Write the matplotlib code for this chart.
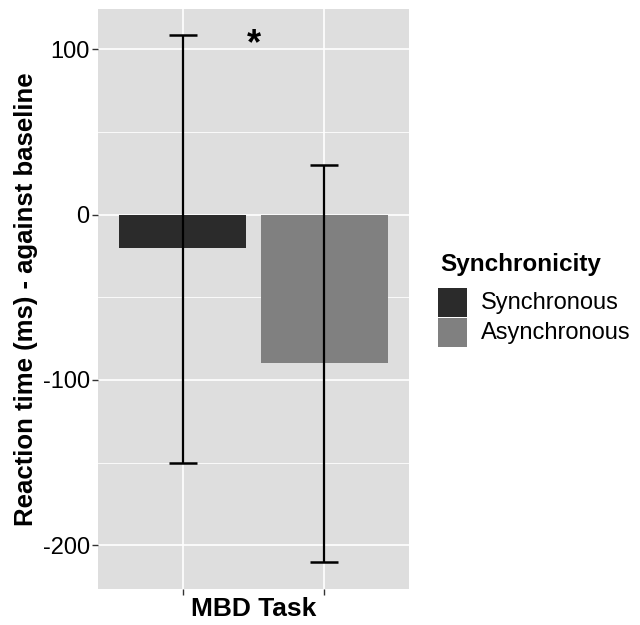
import matplotlib
matplotlib.use("Agg")
import matplotlib.pyplot as plt
from matplotlib.patches import Rectangle
from matplotlib.ticker import MultipleLocator

plt.rcParams['font.family'] = ['Liberation Sans', 'DejaVu Sans']

# Data
groups = ["Synchronous", "Asynchronous"]
means = [-20, -90]
err_low = [-150, -210]
err_high = [109, 30]
colors = ["#2b2b2b", "#808080"]
y_ticks = [-200, -100, 0, 100]
star_pos = (1.5, 103)

fig = plt.figure(figsize=(6.4, 6.25), dpi=100)
ax = fig.add_axes([98/640, 1 - 589/625, 311/640, 580/625])
ax.set_facecolor("#dedede")

xs = [1, 2]
ax.bar(xs, means, width=0.9, color=colors, zorder=2)
for x, lo, hi in zip(xs, err_low, err_high):
    ax.vlines(x, lo, hi, color="black", lw=1.6, zorder=3)
    ax.hlines([lo, hi], x - 0.1, x + 0.1, color="black", lw=1.8, zorder=3)

ax.text(star_pos[0], star_pos[1], "*", ha="center", va="center",
        fontsize=26, fontweight="bold", zorder=4)

ax.set_xlim(0.4, 2.6)
ax.set_ylim(-226.5, 124.5)
ax.set_xticks(xs)
ax.set_xticklabels(["", ""])
ax.set_yticks(y_ticks)
ax.set_yticklabels([str(t) for t in y_ticks])
ax.yaxis.set_minor_locator(MultipleLocator(50))
ax.grid(which="major", color="white", lw=1.2, zorder=1)
ax.grid(which="minor", axis="y", color="white", lw=0.6, zorder=1)
ax.set_axisbelow(True)
ax.tick_params(axis="both", which="major", length=4, width=1, color="#333333",
               labelsize=17, labelcolor="black", pad=2)
ax.tick_params(which="minor", length=0)
for s in ax.spines.values():
    s.set_visible(False)

ax.set_xlabel("MBD Task", fontsize=19, fontweight="bold", labelpad=0)
ax.set_ylabel("Reaction time (ms) - against baseline", fontsize=18.5,
              fontweight="bold", labelpad=3)

# Legend (manual)
fig.text(440/640, 1 - 265/625, "Synchronicity", fontsize=17.5, fontweight="bold",
         ha="left", va="center")
key_y = [288, 318]
for c, ky, lab in zip(colors, key_y, groups):
    fig.patches.append(Rectangle((438/640, 1 - (ky + 29)/625), 29/640, 29/625,
                                 transform=fig.transFigure, facecolor=c,
                                 edgecolor="none"))
    fig.text(481/640, 1 - (ky + 14.5)/625, lab, fontsize=17, ha="left", va="center")

fig.savefig("out.png", dpi=100)
